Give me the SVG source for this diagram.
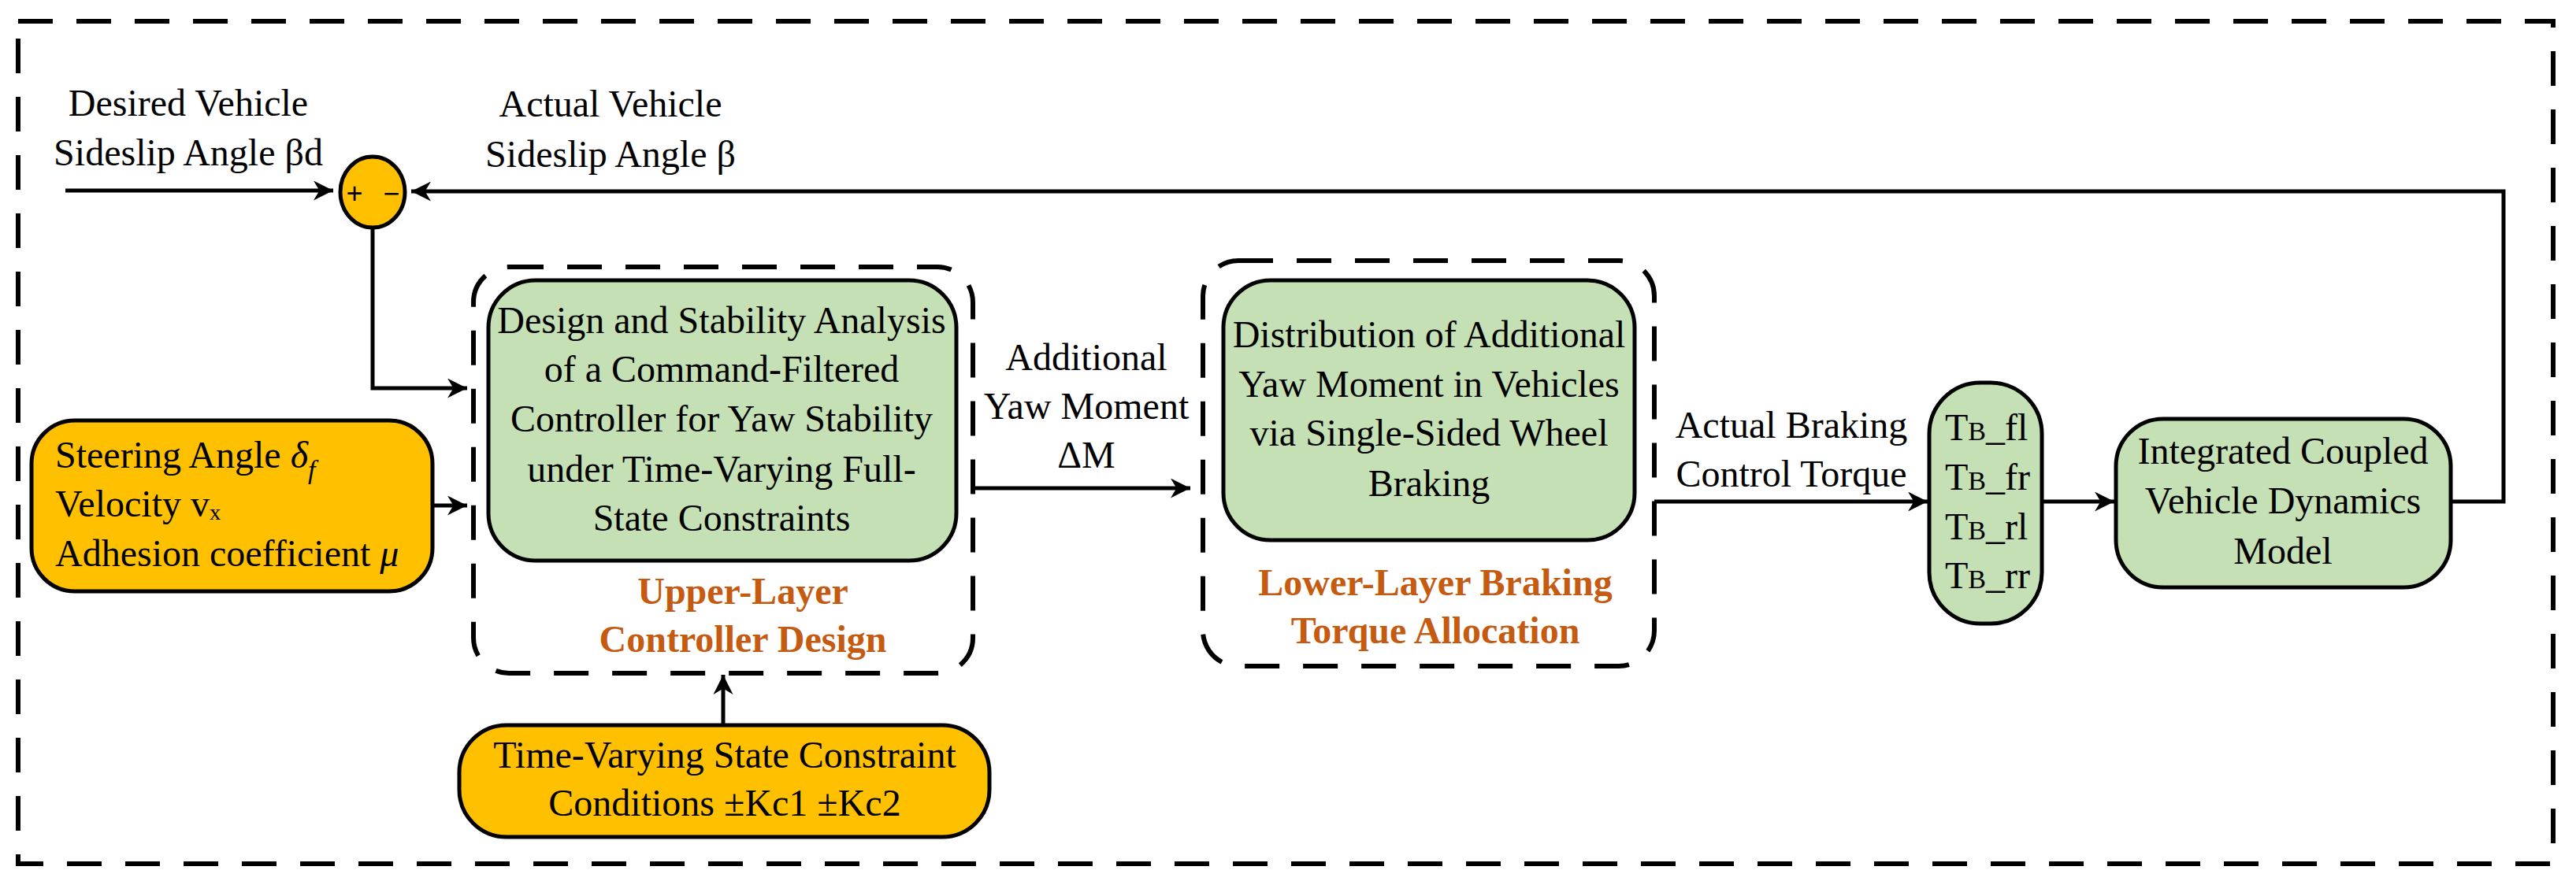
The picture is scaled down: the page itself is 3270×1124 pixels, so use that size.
<svg xmlns="http://www.w3.org/2000/svg" width="3270" height="1124" viewBox="0 0 3270 1124">
<style>
text{font-family:"Liberation Serif","Times New Roman",serif;font-size:48px;fill:#000}
.c{text-anchor:middle}
.lab{font-weight:bold;fill:#C55A11;font-size:48px}
.g{fill:#C5E0B4;stroke:#000;stroke-width:5}
.o{fill:#FFC000;stroke:#000;stroke-width:5}
.d{fill:none;stroke:#000;stroke-width:6;stroke-dasharray:44 30}
.w{fill:none;stroke:#000;stroke-width:5}
</style>
<defs>
<marker id="ah" viewBox="0 0 10 10" refX="10" refY="5" markerWidth="5" markerHeight="5" markerUnits="strokeWidth" orient="auto"><path d="M0,0 L10,5 L0,10 L3,5 Z" fill="#000"/></marker>
</defs>
<rect x="23" y="27" width="3218" height="1070" class="d"/>
<g id="connectors">
<path class="w" d="M83,242 H423" marker-end="url(#ah)"/>
<path class="w" d="M3111,637 H3178 V243 H522" marker-end="url(#ah)"/>
<path class="w" d="M473,289 V493 H593" marker-end="url(#ah)"/>
<path class="w" d="M549,642 H593" marker-end="url(#ah)"/>
<path class="w" d="M918,921 V857" marker-end="url(#ah)"/>
<path class="w" d="M1235,620 H1511" marker-end="url(#ah)"/>
<path class="w" d="M2100,637 H2447" marker-end="url(#ah)"/>
<path class="w" d="M2592,637 H2684" marker-end="url(#ah)"/>
</g>
<g id="desired"><text x="239" y="147" class="c">Desired Vehicle</text><text x="239" y="210" class="c">Sideslip Angle βd</text></g>
<g id="actual"><text x="775" y="148" class="c">Actual Vehicle</text><text x="775" y="212" class="c">Sideslip Angle  β</text></g>
<g id="sum"><ellipse cx="473" cy="244" rx="41" ry="45" class="o"/><text x="450" y="258" class="c" style="font-family:'Liberation Sans',sans-serif;font-size:36px">+</text><text x="497" y="258" class="c" style="font-family:'Liberation Sans',sans-serif;font-size:36px">−</text></g>
<g id="upper">
<rect x="601" y="339" width="634" height="516" rx="45" class="d"/>
<rect x="620" y="356" width="594" height="356" rx="60" class="g"/>
<text x="916" y="423" class="c">Design and Stability Analysis</text>
<text x="916" y="485" class="c">of a Command-Filtered</text>
<text x="916" y="548" class="c">Controller for Yaw Stability</text>
<text x="916" y="612" class="c">under Time-Varying Full-</text>
<text x="916" y="674" class="c">State Constraints</text>
<text x="943" y="767" class="c lab">Upper-Layer</text>
<text x="943" y="828" class="c lab">Controller Design</text>
</g>
<g id="inputs">
<rect x="40" y="534" width="509" height="217" rx="55" class="o"/>
<text x="70" y="594">Steering Angle <tspan font-style="italic">δ</tspan><tspan font-style="italic" font-size="34" dy="14">f</tspan></text>
<text x="70" y="656">Velocity vₓ</text>
<text x="70" y="719">Adhesion coefficient <tspan font-style="italic">μ</tspan></text>
</g>
<g id="constraints">
<rect x="583" y="921" width="673" height="142" rx="60" class="o"/>
<text x="920" y="975" class="c">Time-Varying State Constraint</text>
<text x="920" y="1036" class="c">Conditions ±Kc1 ±Kc2</text>
</g>
<g id="moment"><text x="1379" y="470" class="c">Additional</text><text x="1379" y="532" class="c">Yaw Moment</text><text x="1379" y="594" class="c">ΔM</text></g>
<g id="lower">
<rect x="1527" y="331" width="573" height="515" rx="45" class="d"/>
<rect x="1553" y="356" width="522" height="330" rx="60" class="g"/>
<text x="1814" y="441" class="c">Distribution of Additional</text>
<text x="1814" y="504" class="c">Yaw Moment in Vehicles</text>
<text x="1814" y="566" class="c">via Single-Sided Wheel</text>
<text x="1814" y="630" class="c">Braking</text>
<text x="1822" y="756" class="c lab">Lower-Layer Braking</text>
<text x="1822" y="817" class="c lab">Torque Allocation</text>
</g>
<g id="braking"><text x="2274" y="556" class="c">Actual Braking</text><text x="2274" y="618" class="c">Control Torque</text></g>
<g id="torques">
<rect x="2449" y="486" width="143" height="306" rx="65" class="g"/>
<text x="2469" y="559">T<tspan font-size="34">B</tspan>_fl</text>
<text x="2469" y="622">T<tspan font-size="34">B</tspan>_fr</text>
<text x="2469" y="685">T<tspan font-size="34">B</tspan>_rl</text>
<text x="2469" y="747">T<tspan font-size="34">B</tspan>_rr</text>
</g>
<g id="model">
<rect x="2686" y="532" width="425" height="214" rx="60" class="g"/>
<text x="2898" y="589" class="c">Integrated Coupled</text>
<text x="2898" y="652" class="c">Vehicle Dynamics</text>
<text x="2898" y="716" class="c">Model</text>
</g>
</svg>
